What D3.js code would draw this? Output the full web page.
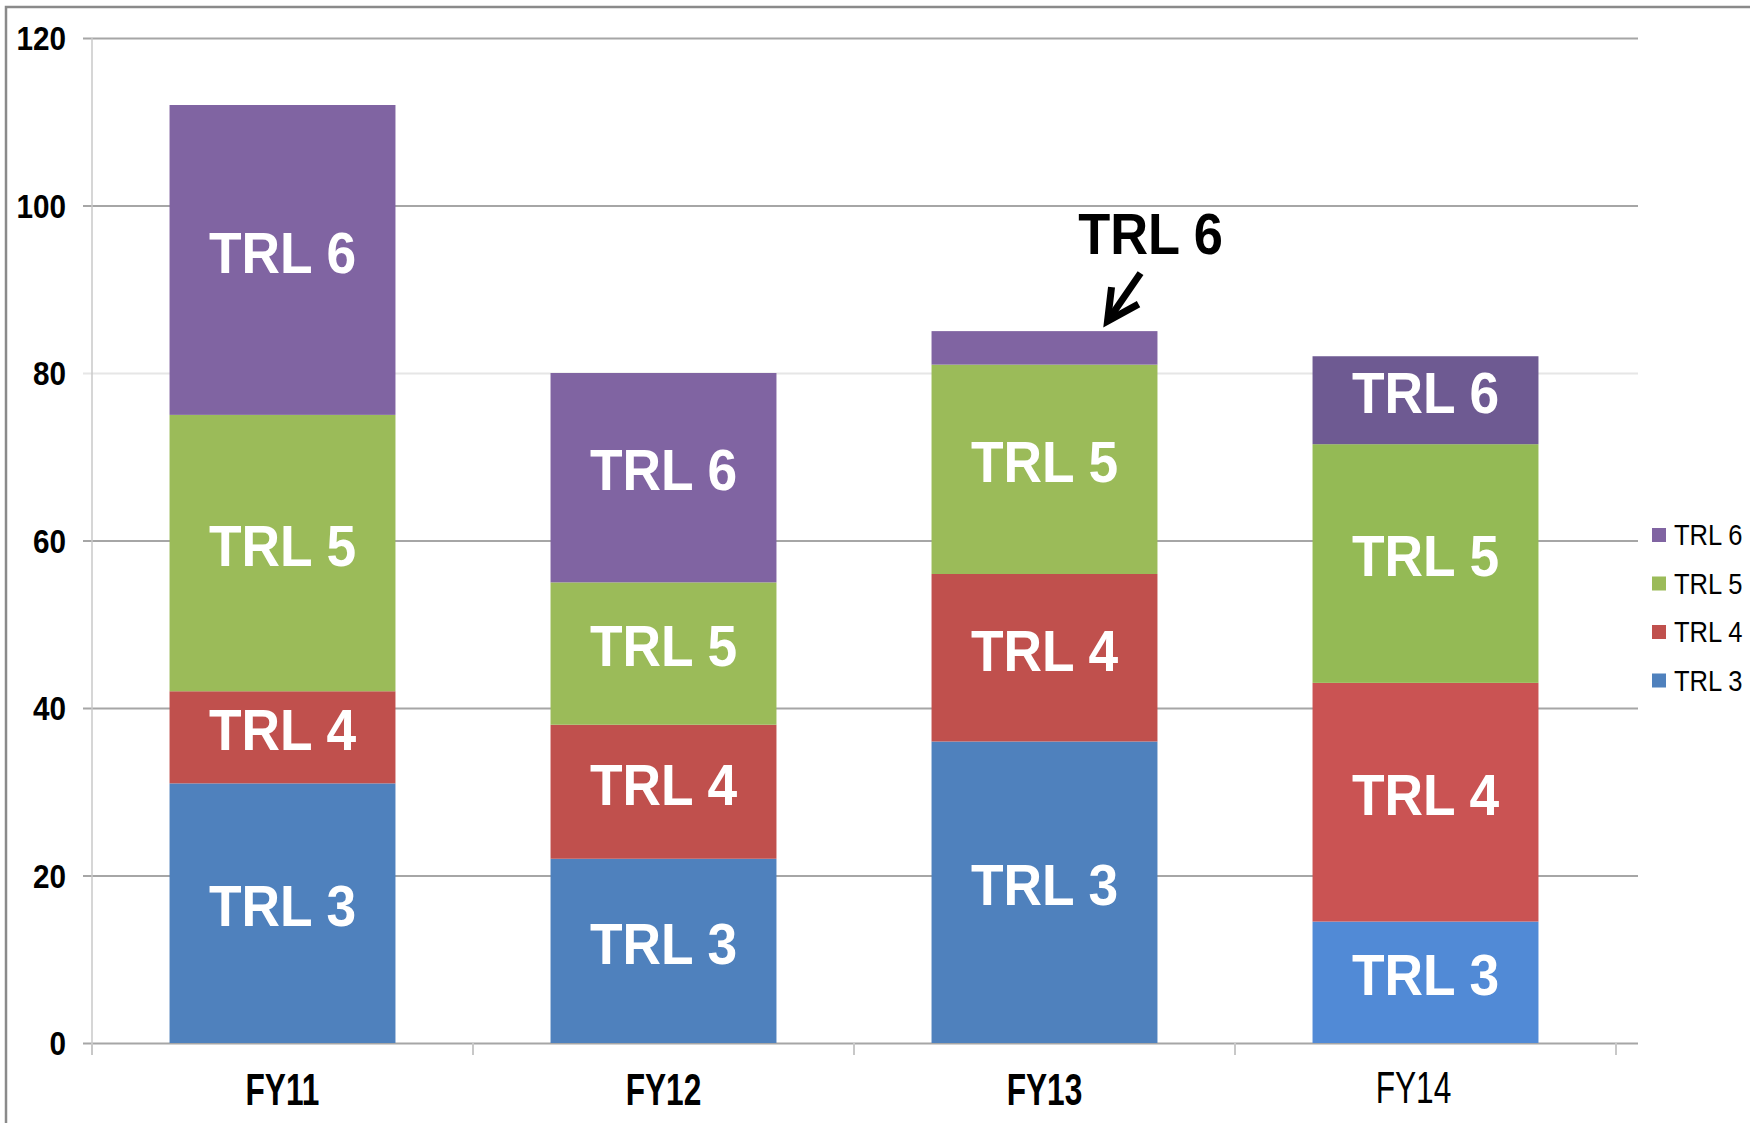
<!DOCTYPE html>
<html>
<head>
<meta charset="utf-8">
<script src="https://cdn.jsdelivr.net/npm/d3@7"></script>
<style>
  body { margin: 0; background: #fff; }
  svg { display: block; font-family: "Liberation Sans", Arial, sans-serif; }
</style>
</head>
<body>
<div id="chart"></div>
<script>
// data
const categories = ['FY11', 'FY12', 'FY13', 'FY14']
const series = ['TRL 3', 'TRL 4', 'TRL 5', 'TRL 6']
const trl3 = [31, 22, 36, 14.5]
const trl4 = [11, 16, 20, 28.5]
const trl5 = [33, 17, 25, 28.5]
const trl6 = [37, 25, 4, 10.5]
const yTicks = [0, 20, 40, 60, 80, 100, 120]
const callout = { category: 'FY13', series: 'TRL 6' }

// FY14 was pasted in from another sheet, so its colours differ a bit
const colors = ['#4f81bd', '#c0504d', '#9bbb59', '#8064a2']
const colorsFY14 = ['#518ad6', '#ca5353', '#94ba55', '#6e5a92']

const width = 1750
const height = 1123
const plotLeft = 92
const plotRight = 1616
const gridRight = 1638
const plotTop = 38
const plotBottom = 1043

const svg = d3.select('#chart')
  .append('svg')
  .attr('width', width)
  .attr('height', height)

// outer frame
svg.append('rect')
  .attr('x', 6).attr('y', 7)
  .attr('width', 2000).attr('height', 2000)
  .style('fill', 'none')
  .style('stroke', '#8a8a8a')
  .style('stroke-width', 2.5)

const rows = categories.map((c, i) => ({
  cat: c, 'TRL 3': trl3[i], 'TRL 4': trl4[i], 'TRL 5': trl5[i], 'TRL 6': trl6[i]
}))
const stacked = d3.stack().keys(series)(rows)

const x = d3.scaleBand()
  .domain(categories)
  .range([plotLeft, plotRight])
  .paddingInner(0.407)
  .paddingOuter(0.2035)

const y = d3.scaleLinear()
  .domain([0, 120])
  .range([plotBottom, plotTop])

// y axis + gridlines
const yAxis = svg.append('g')
  .attr('transform', `translate(${plotLeft},0)`)
  .call(d3.axisLeft(y).tickValues(yTicks).tickSize(-(gridRight - plotLeft)).tickPadding(26))
yAxis.select('.domain').remove()
yAxis.selectAll('.tick line')
  .attr('x1', -9)
  .style('stroke', d => d === 80 ? '#e6e6e6' : '#a6a6a6')
  .style('stroke-width', 2)
yAxis.selectAll('.tick text')
  .attr('x', null)
  .attr('transform', 'translate(-26,0) scale(0.9,1)')
  .style('font-size', '33px')
  .style('font-weight', 700)
  .style('fill', '#000')
  .attr('dy', '0.36em')

svg.append('line')
  .attr('x1', plotLeft).attr('x2', plotLeft)
  .attr('y1', plotTop).attr('y2', plotBottom + 12)
  .style('stroke', '#c8c8c8')
  .style('stroke-width', 1.5)

// category separators on x axis
const bounds = [plotLeft].concat(categories.map(c => x(c) + x.bandwidth() + x.step() * x.paddingInner() / 2))
svg.append('g').selectAll('line')
  .data(bounds)
  .join('line')
  .attr('x1', d => d).attr('x2', d => d)
  .attr('y1', plotBottom).attr('y2', plotBottom + 12)
  .style('stroke', '#c8c8c8')
  .style('stroke-width', 2)

// bars
const colorOf = (cat, si) => (cat === 'FY14' ? colorsFY14 : colors)[si]
const layers = svg.append('g').selectAll('g')
  .data(stacked)
  .join('g')

layers.selectAll('rect')
  .data((d, si) => d.map(p => ({ p, si, key: d.key })))
  .join('rect')
  .attr('x', d => x(d.p.data.cat))
  .attr('y', d => y(d.p[1]))
  .attr('width', x.bandwidth())
  .attr('height', d => y(d.p[0]) - y(d.p[1]))
  .style('fill', d => colorOf(d.p.data.cat, d.si))

// labels inside segments
layers.selectAll('text')
  .data(d => d.filter(p => p[1] - p[0] >= 8).map(p => ({ p, key: d.key })))
  .join('text')
  .attr('transform', d => `translate(${x(d.p.data.cat) + x.bandwidth() / 2},${(y(d.p[0]) + y(d.p[1])) / 2}) scale(0.92,1)`)
  .attr('text-anchor', 'middle')
  .attr('dy', '0.22em')
  .style('font-size', '58px')
  .style('font-weight', 700)
  .style('fill', '#fff')
  .text(d => d.key)

// callout for the thin TRL 6 slice
const ci = categories.indexOf(callout.category)
const cTop = y(stacked[stacked.length - 1][ci][1])
const cLeft = x(callout.category)
const tip = [cLeft + 176, cTop - 10]
const tail = [tip[0] + 33, tip[1] - 48]
svg.append('text')
  .attr('transform', `translate(${cLeft + 219},${cTop - 77}) scale(0.92,1)`)
  .attr('text-anchor', 'middle')
  .style('font-size', '57px')
  .style('font-weight', 700)
  .style('fill', '#000')
  .text(callout.series)
svg.append('path')
  .attr('d', d3.line()([tail, tip]))
  .style('stroke', '#000')
  .style('stroke-width', 7)
svg.append('path')
  .attr('d', d3.line()([[tip[0] + 4, tip[1] - 34], tip, [tip[0] + 31, tip[1] - 17]]))
  .style('fill', 'none')
  .style('stroke', '#000')
  .style('stroke-width', 7)
  .style('stroke-linejoin', 'miter')

// category labels
svg.append('g').selectAll('text')
  .data(categories)
  .join('text')
  .attr('transform', d => `translate(${x(d) + x.bandwidth() / 2 - (d === 'FY14' ? 12 : 0)},${d === 'FY14' ? 1103 : 1105}) scale(0.72,1)`)
  .attr('text-anchor', 'middle')
  .style('font-size', '44px')
  .style('font-weight', d => d === 'FY14' ? 400 : 700)
  .style('fill', '#000')
  .text(d => d)

// legend, TRL 6 on top
const legend = svg.append('g')
  .attr('transform', 'translate(1652,535)')
const items = legend.selectAll('g')
  .data(series.slice().reverse())
  .join('g')
  .attr('transform', (d, i) => `translate(0,${i * 48.5})`)
items.append('rect')
  .attr('x', 0).attr('y', -7)
  .attr('width', 14).attr('height', 14)
  .style('fill', d => colors[series.indexOf(d)])
items.append('text')
  .attr('transform', 'translate(22,0) scale(0.88,1)')
  .attr('dy', '0.36em')
  .style('font-size', '29px')
  .style('fill', '#000')
  .text(d => d)
</script>
</body>
</html>
